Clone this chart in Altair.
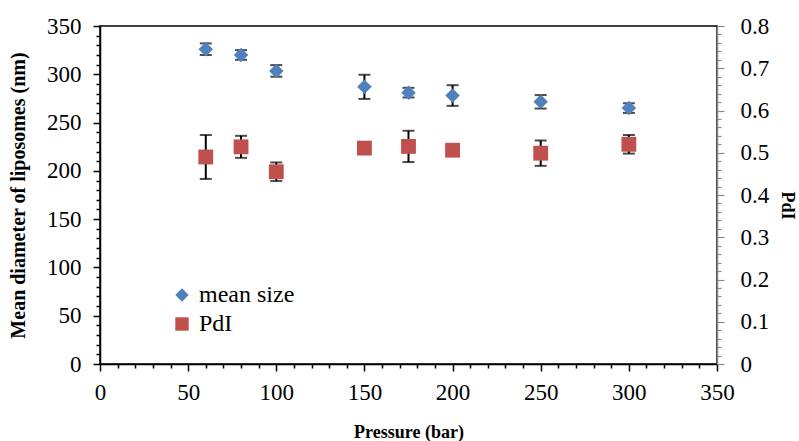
import altair as alt
import pandas as pd

pressure = [60, 80, 100, 150, 175, 200, 250, 300]
mean_size = [326, 320, 303.5, 287, 281, 278, 271.5, 265]
size_err = [6, 5, 6, 12.5, 5, 10.7, 7, 5]
pdi = [0.490, 0.514, 0.455, 0.511, 0.515, 0.506, 0.499, 0.520]
pdi_err = [0.052, 0.026, 0.022, 0.008, 0.037, 0.008, 0.030, 0.022]

series_names = ["mean size", "PdI"]
series_colors = ["#4F81BD", "#C0504D"]
series_shapes = ["diamond", "square"]

x_ticks = list(range(0, 351, 10))
y_left_ticks = list(range(0, 351, 10))
y_right_ticks = [round(i * 0.02, 2) for i in range(41)]

size_df = pd.DataFrame({
    "pressure": pressure,
    "value": mean_size,
    "lo": [m - e for m, e in zip(mean_size, size_err)],
    "hi": [m + e for m, e in zip(mean_size, size_err)],
    "series": "mean size",
})
pdi_df = pd.DataFrame({
    "pressure": pressure,
    "value": pdi,
    "lo": [m - e for m, e in zip(pdi, pdi_err)],
    "hi": [m + e for m, e in zip(pdi, pdi_err)],
    "series": "PdI",
})

FONT = "Liberation Serif"

x_enc = alt.X(
    "pressure:Q",
    scale=alt.Scale(domain=[0, 350], nice=False),
    axis=alt.Axis(
        title="Pressure (bar)",
        values=x_ticks,
        tickCount=100,
        labelExpr="datum.value % 50 === 0 ? datum.label : ''",
        tickSize={"condition": {"test": "datum.value % 50 === 0", "value": 7}, "value": 4},
        labelOverlap=False,
        labelBound=False,
        labelFlush=False,
        grid=False,
        domainColor="black",
        domainWidth=1.5,
        tickColor="black",
        tickWidth=1.5,
        labelPadding=10,
        titleY=68,
        titleBaseline="middle",
        titleFontSize=18,
    ),
)

legend_cfg = dict(
    title=None,
    orient="none",
    legendX=70,
    legendY=257,
    labelFont=FONT,
    labelFontSize=24,
    labelColor="black",
    symbolSize=180,
    symbolStrokeWidth=0,
    symbolOpacity=1,
    rowPadding=5,
    labelOffset=5,
)
color_enc = alt.Color(
    "series:N",
    scale=alt.Scale(domain=series_names, range=series_colors),
    legend=alt.Legend(**legend_cfg),
)
shape_enc = alt.Shape(
    "series:N",
    scale=alt.Scale(domain=series_names, range=series_shapes),
    legend=alt.Legend(**legend_cfg),
)

y_left_scale = alt.Scale(domain=[0, 350], nice=False)
y_right_scale = alt.Scale(domain=[0, 0.8], nice=False)

left_axis = alt.Axis(
    title="Mean diameter of liposomes (nm)",
    orient="left",
    values=y_left_ticks,
    tickCount=100,
    labelExpr="datum.value % 50 === 0 ? datum.label : ''",
    tickSize={"condition": {"test": "datum.value % 50 === 0", "value": 7}, "value": 4},
    labelOverlap=False,
    labelBound=False,
    labelFlush=False,
    grid=False,
    domainColor="black",
    domainWidth=1.5,
    tickColor="black",
    tickWidth=1.5,
    labelPadding=12,
    titleX=-82,
    titleBaseline="middle",
    titleFontSize=20,
)
right_test = "abs(datum.value * 10 - round(datum.value * 10)) < 1e-6"
right_axis = alt.Axis(
    title="PdI",
    orient="right",
    values=y_right_ticks,
    tickCount=100,
    format=".1~f",
    labelExpr=f"{right_test} ? datum.label : ''",
    tickSize={"condition": {"test": right_test, "value": 7}, "value": 4},
    labelOverlap=False,
    labelBound=False,
    labelFlush=False,
    grid=False,
    domainColor="#8c8c8c",
    domainWidth=1.5,
    tickColor="#8c8c8c",
    tickWidth=1.2,
    labelPadding=16,
    titleAngle=90,
    titleX=69,
    titleY=179,
    titleBaseline="middle",
    titleFontSize=18,
)

# left (mean size) layer
size_base = alt.Chart(size_df)
size_rule = size_base.mark_rule(color="black", strokeWidth=2).encode(
    x=x_enc,
    y=alt.Y("lo:Q", scale=y_left_scale, axis=left_axis),
    y2="hi:Q",
)
size_cap_lo = size_base.mark_tick(color="black", orient="horizontal", size=12, thickness=2).encode(
    x="pressure:Q", y=alt.Y("lo:Q", scale=y_left_scale)
)
size_cap_hi = size_base.mark_tick(color="black", orient="horizontal", size=12, thickness=2).encode(
    x="pressure:Q", y=alt.Y("hi:Q", scale=y_left_scale)
)
size_pts = size_base.mark_point(filled=True, opacity=1, size=210).encode(
    x="pressure:Q",
    y=alt.Y("value:Q", scale=y_left_scale),
    color=color_enc,
    shape=shape_enc,
)
left = alt.layer(size_rule, size_cap_lo, size_cap_hi, size_pts)

# right (PdI) layer
pdi_base = alt.Chart(pdi_df)
pdi_rule = pdi_base.mark_rule(color="black", strokeWidth=2).encode(
    x="pressure:Q",
    y=alt.Y("lo:Q", scale=y_right_scale, axis=right_axis),
    y2="hi:Q",
)
pdi_cap_lo = pdi_base.mark_tick(color="black", orient="horizontal", size=12, thickness=2).encode(
    x="pressure:Q", y=alt.Y("lo:Q", scale=y_right_scale)
)
pdi_cap_hi = pdi_base.mark_tick(color="black", orient="horizontal", size=12, thickness=2).encode(
    x="pressure:Q", y=alt.Y("hi:Q", scale=y_right_scale)
)
pdi_pts = pdi_base.mark_point(filled=True, opacity=1, size=220).encode(
    x="pressure:Q",
    y=alt.Y("value:Q", scale=y_right_scale),
    color=color_enc,
    shape=shape_enc,
)
right = alt.layer(pdi_rule, pdi_cap_lo, pdi_cap_hi, pdi_pts)

chart = (
    alt.layer(left, right)
    .resolve_scale(y="independent")
    .properties(
        width=617,
        height=338,
        autosize=alt.AutoSizeParams(type="none"),
        padding={"left": 100, "top": 26, "right": 82, "bottom": 77},
        background="white",
    )
    .configure_view(stroke="black", strokeWidth=1.5)
    .configure_axis(
        labelFont=FONT,
        labelFontSize=23,
        labelColor="black",
        titleFont=FONT,
        titleFontWeight="bold",
        titleColor="black",
    )
)

chart.save("out.html", embed_options={"renderer": "svg", "actions": False})
